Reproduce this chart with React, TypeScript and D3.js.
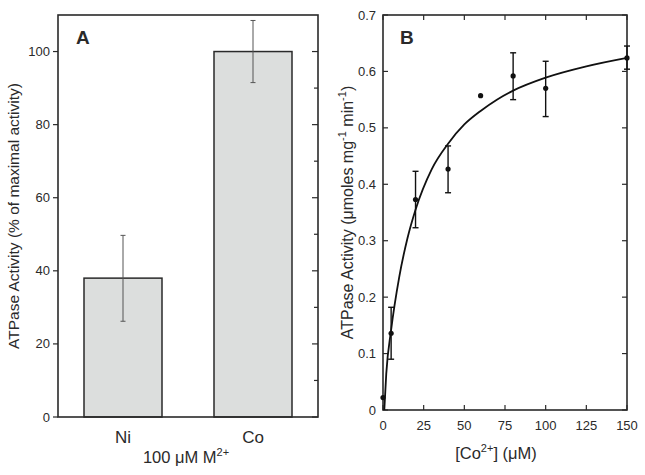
import React from "react";
import * as d3 from "d3";

const metals = ["Ni", "Co"];
const metalActivity = [38, 100];
const metalErrLow = [26.2, 91.5];
const metalErrHigh = [49.7, 108.5];

const coConc = [0, 5, 20, 40, 60, 80, 100, 150];
const coActivity = [0.022, 0.136, 0.373, 0.427, 0.557, 0.592, 0.57, 0.624];
const coErrLow = [null, 0.09, 0.323, 0.385, null, 0.55, 0.52, 0.604];
const coErrHigh = [null, 0.182, 0.423, 0.468, null, 0.633, 0.618, 0.645];

const fitConc = [0.8, 2, 5, 10, 15, 20, 30, 40, 50, 60, 70, 80, 100, 125, 150];
const fitActivity = [0.0, 0.064, 0.142, 0.236, 0.304, 0.355, 0.427, 0.472, 0.506, 0.53, 0.55, 0.566, 0.589, 0.609, 0.624];

const aTicks = [0, 20, 40, 60, 80, 100];
const aMinor = [10, 30, 50, 70, 90];
const bXTicks = [0, 25, 50, 75, 100, 125, 150];
const bYTicks = [0, 0.1, 0.2, 0.3, 0.4, 0.5, 0.6, 0.7];

const FONT = "Liberation Sans, Arial, Helvetica, sans-serif";
const INK = "#2a2a2a";

export default function App() {
  // Panel A
  const aL = 58, aR = 318, aT = 15, aB = 417;
  const ay = d3.scaleLinear().domain([0, 110]).range([aB, aT]);
  const ax = d3.scaleBand().domain(metals).range([aL, aR]).paddingInner(0.4).paddingOuter(0.2);

  // Panel B
  const bL = 383, bR = 627, bT = 15, bB = 410;
  const bx = d3.scaleLinear().domain([0, 150]).range([bL, bR]);
  const by = d3.scaleLinear().domain([0, 0.7]).range([bB, bT]);
  const line = d3.line<number>()
    .x((_, i) => bx(fitConc[i]))
    .y((d) => by(d))
    .curve(d3.curveMonotoneX);

  return (
    <svg width={645} height={475} style={{ position: "absolute", left: 0, top: 0, background: "#fff" }} fontFamily={FONT}>
      {/* Panel A */}
      <g>
        {metals.map((m, i) => (
          <rect key={m} x={ax(m)!} y={ay(metalActivity[i])} width={ax.bandwidth()} height={aB - ay(metalActivity[i])}
            fill="#dcdedd" stroke={INK} strokeWidth={1.5} />
        ))}
        {metals.map((m, i) => {
          const cx = ax(m)! + ax.bandwidth() / 2;
          return (
            <g key={m + "e"} stroke="#555" strokeWidth={1}>
              <line x1={cx} x2={cx} y1={ay(metalErrLow[i])} y2={ay(metalErrHigh[i])} />
              <line x1={cx - 2.5} x2={cx + 2.5} y1={ay(metalErrLow[i])} y2={ay(metalErrLow[i])} />
              <line x1={cx - 2.5} x2={cx + 2.5} y1={ay(metalErrHigh[i])} y2={ay(metalErrHigh[i])} />
            </g>
          );
        })}
        <rect x={aL} y={aT} width={aR - aL} height={aB - aT} fill="none" stroke={INK} strokeWidth={1.6} />
        {aTicks.map((t) => (
          <g key={t}>
            <line x1={aL - 5} x2={aL} y1={ay(t)} y2={ay(t)} stroke={INK} strokeWidth={1.2} />
            <line x1={aR - 6} x2={aR} y1={ay(t)} y2={ay(t)} stroke={INK} strokeWidth={1.2} />
            <text x={aL - 8} y={ay(t)} dy="0.35em" textAnchor="end" fontSize={13} fill={INK}>{t}</text>
          </g>
        ))}
        {aMinor.map((t) => (
          <line key={t} x1={aR - 4} x2={aR} y1={ay(t)} y2={ay(t)} stroke={INK} strokeWidth={1.2} />
        ))}
        {metals.map((m) => (
          <text key={m + "l"} x={ax(m)! + ax.bandwidth() / 2} y={443} textAnchor="middle" fontSize={17} fill={INK}>{m}</text>
        ))}
        <text x={186} y={463} textAnchor="middle" fontSize={16.5} fill={INK}>
          100 μM M<tspan dy={-7} fontSize={11}>2+</tspan>
        </text>
        <text transform={`translate(19,${(aT + aB) / 2}) rotate(-90)`} textAnchor="middle" fontSize={15.5} fill={INK}>
          ATPase Activity (% of maximal activity)
        </text>
        <text x={76} y={44} fontSize={19} fontWeight="bold" fill={INK}>A</text>
      </g>

      {/* Panel B */}
      <g>
        <rect x={bL} y={bT} width={bR - bL} height={bB - bT} fill="none" stroke={INK} strokeWidth={1.6} />
        {bXTicks.map((t) => (
          <g key={t}>
            <line x1={bx(t)} x2={bx(t)} y1={bB} y2={bB - 5} stroke={INK} strokeWidth={1.2} />
            <line x1={bx(t)} x2={bx(t)} y1={bT} y2={bT + 5} stroke={INK} strokeWidth={1.2} />
            <text x={bx(t)} y={425} dy="0.35em" textAnchor="middle" fontSize={13} fill={INK}>{t}</text>
          </g>
        ))}
        {bYTicks.map((t) => (
          <g key={t}>
            <line x1={bL} x2={bL + 5} y1={by(t)} y2={by(t)} stroke={INK} strokeWidth={1.2} />
            <line x1={bR} x2={bR - 5} y1={by(t)} y2={by(t)} stroke={INK} strokeWidth={1.2} />
            <text x={bL - 7} y={by(t)} dy="0.35em" textAnchor="end" fontSize={13} fill={INK}>{t}</text>
          </g>
        ))}
        <path d={line(fitActivity) || ""} fill="none" stroke="#111" strokeWidth={1.8} />
        {coConc.map((c, i) => (
          <g key={c}>
            {coErrLow[i] !== null && (
              <g stroke="#111" strokeWidth={1.4}>
                <line x1={bx(c)} x2={bx(c)} y1={by(coErrLow[i] as number)} y2={by(coErrHigh[i] as number)} />
                <line x1={bx(c) - 3} x2={bx(c) + 3} y1={by(coErrLow[i] as number)} y2={by(coErrLow[i] as number)} />
                <line x1={bx(c) - 3} x2={bx(c) + 3} y1={by(coErrHigh[i] as number)} y2={by(coErrHigh[i] as number)} />
              </g>
            )}
            <circle cx={bx(c)} cy={by(coActivity[i])} r={2.6} fill="#111" />
          </g>
        ))}
        <text x={496} y={459} textAnchor="middle" fontSize={16.5} fill={INK}>
          [Co<tspan dy={-7} fontSize={11}>2+</tspan><tspan dy={7}>] (μM)</tspan>
        </text>
        <text transform={`translate(353,${(bT + bB) / 2}) rotate(-90)`} textAnchor="middle" fontSize={16} fill={INK}>
          ATPase Activity (μmoles mg<tspan dy={-7} fontSize={11}>-1</tspan><tspan dy={7}> min</tspan><tspan dy={-7} fontSize={11}>-1</tspan><tspan dy={7}>)</tspan>
        </text>
        <text x={400} y={44} fontSize={19} fontWeight="bold" fill={INK}>B</text>
      </g>
    </svg>
  );
}
